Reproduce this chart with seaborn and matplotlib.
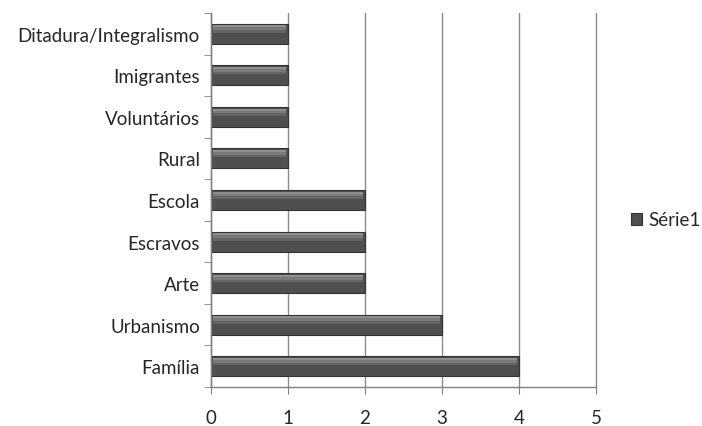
import matplotlib
matplotlib.use("Agg")
import matplotlib.pyplot as plt
import seaborn as sns
import pandas as pd
import numpy as np

categories = ["Ditadura/Integralismo", "Imigrantes", "Voluntários", "Rural",
              "Escola", "Escravos", "Arte", "Urbanismo", "Família"]
values = [1, 1, 1, 1, 2, 2, 2, 3, 4]
series_name = "Série1"
x_ticks = [0, 1, 2, 3, 4, 5]

sns.set_style("white")
plt.rcParams['font.family'] = ['Lato', 'DejaVu Sans']

df = pd.DataFrame({"cat": categories, "val": values, "serie": series_name})

fig = plt.figure(figsize=(7.02, 4.27), dpi=100)
ax = fig.add_axes([211/702, 1-388/427, (596-211)/702, (388-14)/427])

sns.barplot(data=df, x="val", y="cat", hue="serie", orient="h", ax=ax,
            palette=["#4f4f4f"], width=0.48, edgecolor="#333333", linewidth=0.8,
            legend=True)

# soft highlight (cylinder look)
for p in list(ax.patches):
    w = p.get_width()
    if w <= 0:
        continue
    y0 = p.get_y(); h = p.get_height()
    for frac0, frac1, col in [(0.08, 0.18, "#8f8f8f"), (0.18, 0.32, "#7a7a7a"), (0.32, 0.45, "#646464")]:
        ax.add_patch(plt.Rectangle((p.get_x() + 0.02, y0 + h*frac0), w - 0.04, h*(frac1-frac0),
                                   facecolor=col, edgecolor="none", zorder=p.get_zorder()+0.1))

ax.set_xlim(0, 5)
ax.set_ylim(len(categories)-0.5, -0.5)
ax.set_xticks(x_ticks)
ax.set_xticklabels([str(t) for t in x_ticks], fontsize=13.5)
ax.set_xlabel(""); ax.set_ylabel("")
ax.tick_params(axis="y", length=0, labelsize=13.5, pad=8)
ax.set_yticks(np.arange(-0.5, len(categories)), minor=True)
ax.tick_params(axis="y", which="minor", length=5, color="#808080", direction="out", left=True)
ax.tick_params(axis="x", length=5, color="#808080", direction="out", bottom=True, pad=10.5)

ax.xaxis.grid(True, color="#8c8c8c", linewidth=1)
for gl in ax.get_xgridlines():
    gl.set_clip_on(False)
ax.set_axisbelow(True)
for s in ["top", "right"]:
    ax.spines[s].set_visible(False)
for s in ["left", "bottom"]:
    ax.spines[s].set_color("#808080")
    ax.spines[s].set_linewidth(1)

leg = ax.legend(loc="center left", bbox_to_anchor=(631/702, 1-221/427),
                bbox_transform=fig.transFigure, frameon=False, fontsize=13.5,
                handlelength=0.6, handleheight=0.6, handletextpad=0.3,
                borderaxespad=0, borderpad=0)

fig.savefig("out.png", dpi=100)
